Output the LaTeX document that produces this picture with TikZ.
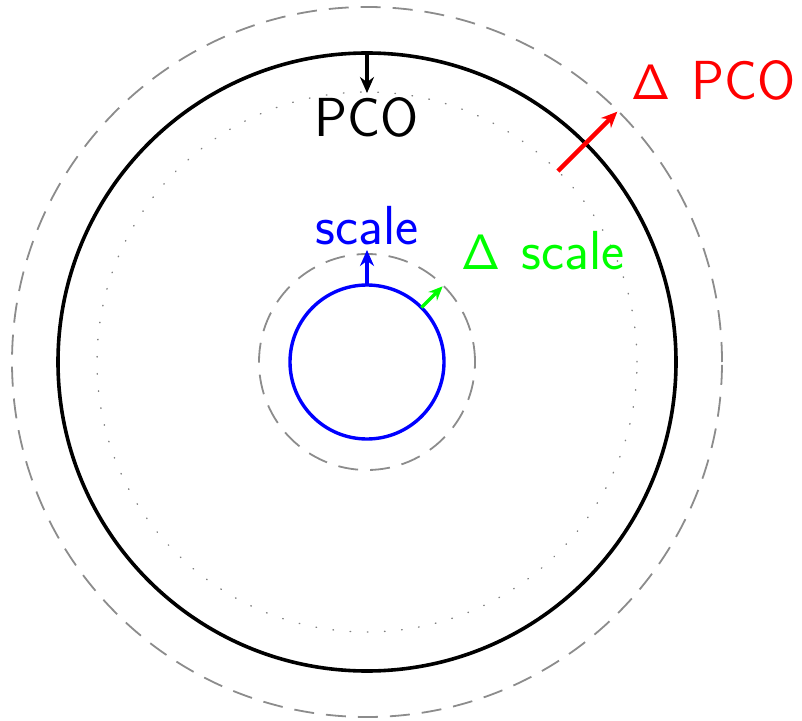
\documentclass[tikz,border=0pt]{standalone}
\usetikzlibrary{arrows.meta,calc}
\begin{document}
\begin{tikzpicture}[x=0.5pt,y=-0.5pt,
  lbl/.style={font=\sffamily\fontsize{27.5}{31}\selectfont, inner sep=0pt, anchor=base},
  gdash/.style={draw=gray!90, line width=0.9pt, dash pattern=on 10pt off 6pt},
  gdot/.style={draw=gray, line width=0.7pt, dash pattern=on 0.3pt off 8.3pt, line cap=round},
  arr/.style={-{Stealth[length=8pt,width=7pt]}}
]
\useasboundingbox (0,0) rectangle (802,721);
\coordinate (c) at (367,362);
% circles
\draw[gdash] (c) circle (177.5pt);
\draw[black, line width=1.8pt] (c) circle (154.5pt);
\draw[gdot] (c) circle (135pt);
\draw[gdash] (c) circle (54pt);
\draw[blue, line width=1.7pt] (c) circle (38.5pt);
% arrow end points
\coordinate (pA) at ($(c)+(90:154.5pt)$);
\coordinate (pB) at ($(c)+(90:134.5pt)$);
\coordinate (rA) at ($(c)+(45:135pt)$);
\coordinate (rB) at ($(c)+(45:177pt)$);
\coordinate (sA) at ($(c)+(90:38.5pt)$);
\coordinate (sB) at ($(c)+(90:56pt)$);
\coordinate (gA) at ($(c)+(45:38.5pt)$);
\coordinate (gB) at ($(c)+(45:53.5pt)$);
% arrows
\draw[arr, black, line width=2pt] (pA) -- (pB);
\draw[arr, red, line width=2.2pt] (rA) -- (rB);
\draw[arr, blue, line width=2.2pt] (sA) -- (sB);
\draw[green, line width=1.6pt, -{Stealth[length=7pt,width=6pt]}] (gA) -- (gB);
% labels
\node[lbl, black] (pco) at (367,137) {PCO};
\node[lbl, blue] (sc) at (367,245) {scale};
\node[lbl, green, anchor=base west] (dsc) at (461,270) {$\mathsf{\Delta}$\kern2pt{} scale};
\node[lbl, red, anchor=base west] (dpco) at (631,100) {$\mathsf{\Delta}$\kern2pt{} PCO};
\end{tikzpicture}
\end{document}
